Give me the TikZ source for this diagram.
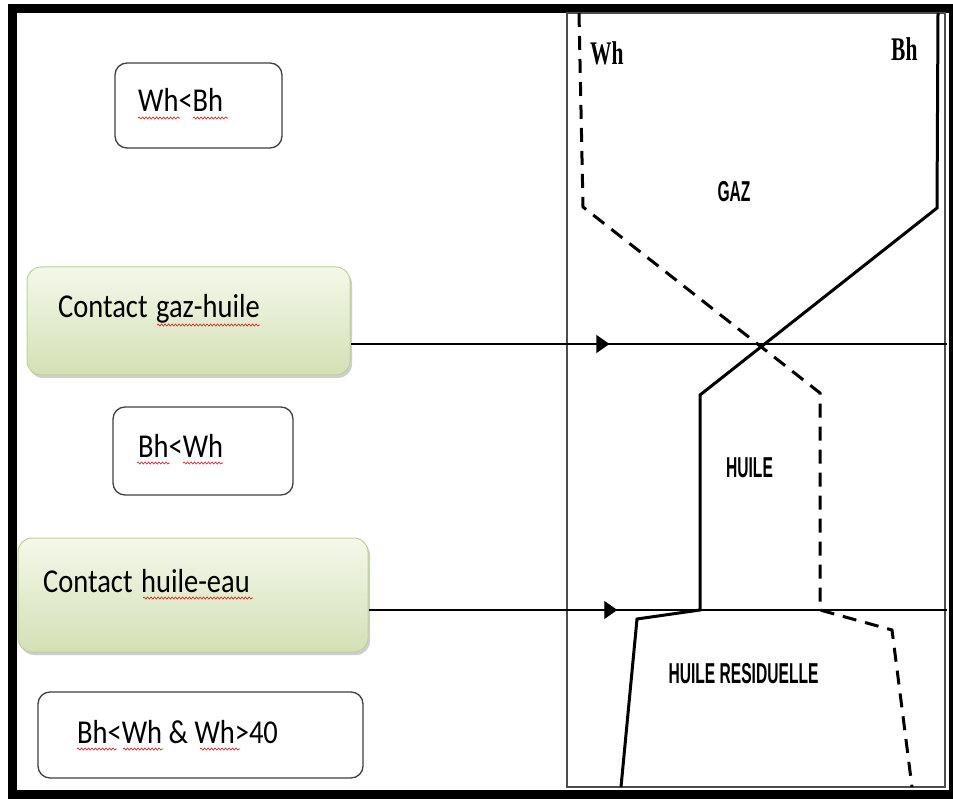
\documentclass[tikz,border=0pt]{standalone}
\usepackage{fontspec}
\setmainfont{Carlito}
\newfontfamily\lserif{Liberation Serif}
\newfontfamily\lsans{Liberation Sans}
\usetikzlibrary{arrows.meta,decorations.markings,decorations.pathmorphing,shadows}
\definecolor{gtop}{HTML}{F4F8EA}
\definecolor{gbot}{HTML}{D3E0B5}
\definecolor{gborder}{HTML}{C0D196}
\definecolor{spellred}{HTML}{D42A2A}
\newcommand{\boxtxt}[1]{\scalebox{1}[1.17]{#1}}
\newcommand{\regtxt}[1]{\scalebox{0.65}[1.2]{#1}}
\newcommand{\axtxt}[1]{\scalebox{0.65}[1]{#1}}
\begin{document}
\begin{tikzpicture}[x=1pt,y=-1pt,
  wbox/.style={draw=black!75, line width=1.3pt, rounded corners=12pt, fill=white, inner sep=0pt},
  gbox/.style={draw=gborder, line width=1pt, rounded corners=14pt, top color=gtop, bottom color=gbot, inner sep=0pt,
     drop shadow={shadow xshift=2pt, shadow yshift=-3pt, opacity=0.35, fill=black!55}},
  btxt/.style={anchor=base west, inner sep=0pt, font=\fontsize{28.5}{34}\selectfont},
  regtext/.style={anchor=base, inner sep=0pt, font=\lsans\bfseries\fontsize{24}{28}\selectfont},
  axlabel/.style={anchor=base west, inner sep=0pt, font=\lserif\bfseries\fontsize{33}{38}\selectfont},
  spell/.style={draw=spellred, line width=0.7pt, decorate, decoration={snake, segment length=3.5pt, amplitude=1pt}},
  bcurve/.style={line width=3pt, line join=miter},
  wcurve/.style={line width=3pt, dash pattern=on 14pt off 9pt},
  flow/.style={line width=1.4pt, decoration={markings, mark=at position #1 with {\arrow{Triangle[length=13pt,width=18pt]}}}, postaction={decorate}}
]
\useasboundingbox (0,0) rectangle (953,799);
\fill[white] (0,0) rectangle (953,799);

% outer frame
\draw[line width=9pt] (12,9) rectangle (953,794);

% chart frame
\draw[black!70, line width=1.2pt] (567,13) rectangle (945,787);

% boxes
\node[wbox, minimum width=167pt, minimum height=85pt] (b1) at (198.5,105.5) {};
\node[gbox, minimum width=323pt, minimum height=108pt] (c1) at (188.5,321) {};
\node[wbox, minimum width=180pt, minimum height=88pt] (b2) at (203,451) {};
\node[gbox, minimum width=350pt, minimum height=114pt] (c2) at (193,595) {};
\node[wbox, minimum width=325pt, minimum height=86pt] (b3) at (200.5,735) {};

% box texts
\node[btxt] (t1) at (138,112) {\boxtxt{Wh<Bh}};
\node[btxt] (t2) at (58,318) {\boxtxt{Contact\hspace{0.3em}gaz-huile}};
\node[btxt] (t3) at (138,457) {\boxtxt{Bh<Wh}};
\node[btxt] (t4) at (43,592) {\boxtxt{Contact\hspace{0.3em}huile-eau}};
\node[btxt] (t5) at (77,743) {\boxtxt{Bh<Wh \& Wh>40}};

% spell-check underlines
\draw[spell] (138,118) -- (180,118);
\draw[spell] (193,118) -- (228,118);
\draw[spell] (157,325) -- (260,325);
\draw[spell] (137,463) -- (170,463);
\draw[spell] (183,463) -- (223,463);
\draw[spell] (143,598) -- (253,598);
\draw[spell] (77,749) -- (117,749);
\draw[spell] (123,749) -- (163,749);
\draw[spell] (200,749) -- (240,749);

% contact lines
\coordinate (e1) at (947,344);
\coordinate (e2) at (947,610);
\draw[flow=0.434] (c1.east |- e1) -- (e1);
\draw[flow=0.43] (c2.east |- e2) -- (e2);

% Bh curve (solid)
\draw[bcurve] (938,13) -- (937,208) -- (700,395) -- (700,610) -- (637,619) -- (621,787);
% Wh curve (dashed)
\draw[wcurve] (579,13) -- (583,207) -- (820,393) -- (820,610) -- (892,630) -- (912,787);

% axis labels
\node[axlabel] (wh) at (590,65) {\axtxt{Wh}};
\node[axlabel] (bh) at (891,61) {\axtxt{Bh}};

% region labels
\node[regtext] (gaz) at (734,202) {\regtxt{GAZ}};
\node[regtext] (huile) at (749.5,477) {\regtxt{HUILE}};
\node[regtext] (res) at (743.5,683) {\regtxt{HUILE RESIDUELLE}};
\end{tikzpicture}
\end{document}
